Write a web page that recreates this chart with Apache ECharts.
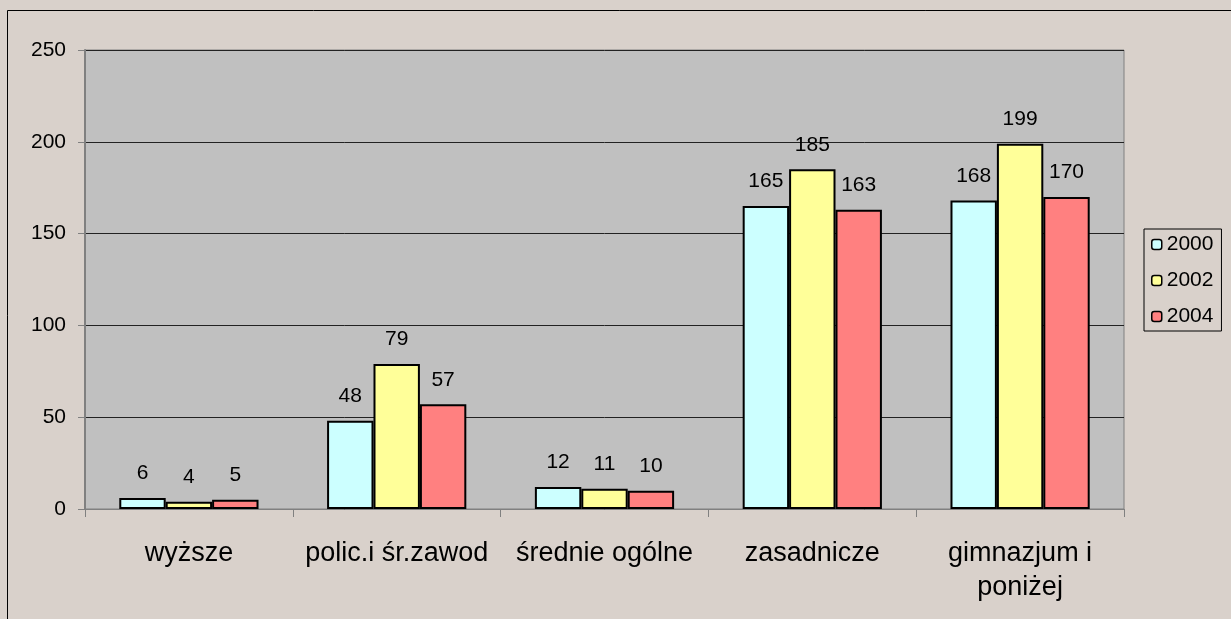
<!DOCTYPE html>
<html>
<head>
<meta charset="utf-8">
<script src="https://cdn.jsdelivr.net/npm/echarts@6/dist/echarts.min.js"></script>
<style>
html,body{margin:0;padding:0;background:#d9d1cb;}
#c{width:1231px;height:619px;}
</style>
</head>
<body>
<div id="c"></div>
<script>
const categories = ['wyższe', 'polic.i śr.zawod', 'średnie ogólne', 'zasadnicze', 'gimnazjum i\nponiżej'];
const seriesNames = ['2000', '2002', '2004'];
const values2000 = [6, 48, 12, 165, 168];
const values2002 = [4, 79, 11, 185, 199];
const values2004 = [5, 57, 10, 163, 170];
const yTicks = { min: 0, max: 250, interval: 50 };
const colors = ['#ccffff', '#ffff99', '#ff8080'];

const FONT = 'Liberation Sans, Arial, sans-serif';
const chart = echarts.init(document.getElementById('c'));
const allValues = [values2000, values2002, values2004];

chart.setOption({
  backgroundColor: '#d9d1cb',
  animation: false,
  textStyle: { fontFamily: FONT, color: '#000' },
  graphic: [{
    type: 'rect', silent: true, z: 100,
    shape: { x: 7.5, y: 10.5, width: 1400, height: 800 },
    style: { fill: 'none', stroke: '#000', lineWidth: 1 }
  }],
  grid: {
    left: 85, top: 50, right: 107, bottom: 110,
    show: true, backgroundColor: '#c0c0c0', borderColor: '#808080', borderWidth: 1
  },
  legend: {
    orient: 'vertical', left: 1144, top: 229,
    padding: [5, 8, 4, 7], itemGap: 15,
    itemWidth: 10, itemHeight: 10,
    backgroundColor: '#d9d1cb', borderColor: '#000', borderWidth: 1,
    textStyle: { fontSize: 21, fontFamily: FONT, color: '#000', padding: [0, 0, 0, 0] },
    itemStyle: { borderColor: '#000', borderWidth: 1.5 },
    data: seriesNames
  },
  xAxis: {
    type: 'category', data: categories,
    axisLine: { lineStyle: { color: '#808080', width: 1 } },
    axisTick: { show: true, length: 8, lineStyle: { color: '#808080' } },
    axisLabel: { fontSize: 27, fontFamily: FONT, color: '#000', margin: 28, lineHeight: 34, interval: 0 },
    splitLine: { show: false }
  },
  yAxis: {
    type: 'value', min: yTicks.min, max: yTicks.max, interval: yTicks.interval,
    axisLine: { show: true, lineStyle: { color: '#808080', width: 2 } },
    axisTick: { show: true, length: 7, lineStyle: { color: '#808080' } },
    axisLabel: { fontSize: 21, fontFamily: FONT, color: '#000', margin: 19 },
    splitLine: { show: true, lineStyle: { color: '#222', width: 1 } }
  },
  series: seriesNames.map((name, i) => ({
    name: name, type: 'bar', data: allValues[i],
    barGap: '0%', barCategoryGap: '33%',
    itemStyle: { color: colors[i], borderColor: '#000', borderWidth: 2 },
    label: { show: true, position: 'top', distance: 14, fontSize: 21, fontFamily: FONT, color: '#000' }
  }))
});
</script>
</body>
</html>
